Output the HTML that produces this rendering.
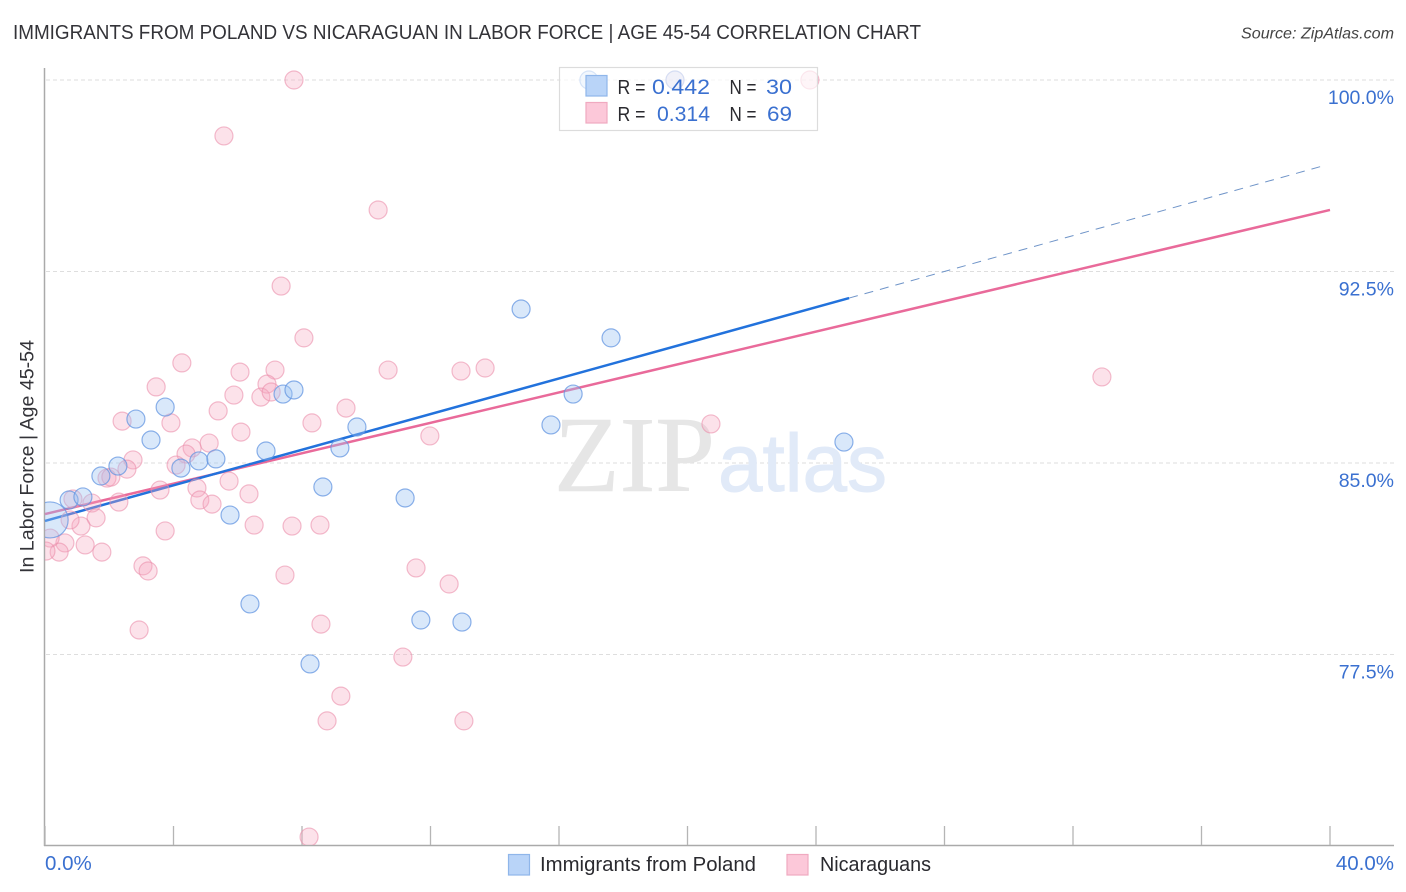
<!DOCTYPE html>
<html>
<head>
<meta charset="utf-8">
<title>Correlation Chart</title>
<style>
html,body{margin:0;padding:0;background:#fff;width:1406px;height:892px;overflow:hidden}
svg{display:block;font-family:"Liberation Sans",sans-serif}
</style>
</head>
<body>
<svg id="chart" xmlns="http://www.w3.org/2000/svg" width="1406" height="892" viewBox="0 0 1406 892">
  <defs><clipPath id="plot-clip"><rect x="45" y="60" width="1349" height="785"/></clipPath></defs>
  <text x="13" y="39" font-size="20" fill="#333338" textLength="908" lengthAdjust="spacingAndGlyphs">IMMIGRANTS FROM POLAND VS NICARAGUAN IN LABOR FORCE | AGE 45-54 CORRELATION CHART</text>
  <text x="1394" y="38.500" font-size="16" font-style="italic" fill="#444" text-anchor="end" textLength="153" lengthAdjust="spacingAndGlyphs">Source: ZipAtlas.com</text>
  <g id="grid"></g>
  <text x="554" y="491" font-family="'Liberation Serif',serif" font-size="108" fill="#e6e6e6" stroke="#e6e6e6" stroke-width="0.600" textLength="161" lengthAdjust="spacingAndGlyphs">ZIP</text>
  <text x="718" y="491" font-size="82" fill="#e1eaf8" stroke="#e1eaf8" stroke-width="1" textLength="169" lengthAdjust="spacingAndGlyphs">atlas</text>
  <g id="axes">
    <line x1="44.500" y1="68" x2="44.500" y2="846" stroke="#aaa" stroke-width="1.500"/>
    <line x1="44" y1="845.500" x2="1394" y2="845.500" stroke="#aaa" stroke-width="1.500"/>
  </g>
  <g id="x-ticks"></g>
  <g id="y-labels"></g>
  <g id="x-labels"></g>
  <g id="lines"></g>
  <g id="points" clip-path="url(#plot-clip)"></g>
  <text transform="translate(33.500,456.500) rotate(-90)" font-size="19" fill="#333338" text-anchor="middle" textLength="233" lengthAdjust="spacingAndGlyphs">In Labor Force | Age 45-54</text>

  <g>
    <rect x="559.500" y="67.500" width="258" height="63" fill="#fff" fill-opacity="0.66" stroke="#dcdcdc" stroke-width="1.200"/>
    <rect x="586" y="75.500" width="21" height="20.500" fill="#b9d4f8" stroke="#8fb6ea" stroke-width="1.200"/>
    <rect x="586" y="102.500" width="21" height="20.500" fill="#fcc8d9" stroke="#f0a9c0" stroke-width="1.200"/>
    <text x="617.500" y="94" font-size="20" fill="#2a2a2f" textLength="28" lengthAdjust="spacingAndGlyphs">R =</text>
    <text x="652" y="94" font-size="21" fill="#3a70d0" textLength="58" lengthAdjust="spacingAndGlyphs">0.442</text>
    <text x="729.500" y="94" font-size="20" fill="#2a2a2f" textLength="27" lengthAdjust="spacingAndGlyphs">N =</text>
    <text x="766" y="94" font-size="21" fill="#3a70d0" textLength="26" lengthAdjust="spacingAndGlyphs">30</text>
    <text x="617.500" y="121" font-size="20" fill="#2a2a2f" textLength="28" lengthAdjust="spacingAndGlyphs">R =</text>
    <text x="657" y="121" font-size="21" fill="#3a70d0" textLength="53" lengthAdjust="spacingAndGlyphs">0.314</text>
    <text x="729.500" y="121" font-size="20" fill="#2a2a2f" textLength="27" lengthAdjust="spacingAndGlyphs">N =</text>
    <text x="767" y="121" font-size="21" fill="#3a70d0" textLength="25" lengthAdjust="spacingAndGlyphs">69</text>
  </g>

  <g>
    <rect x="508.500" y="854.500" width="21" height="20.500" fill="#b9d4f8" stroke="#8fb6ea" stroke-width="1.200"/>
    <text x="540" y="871" font-size="20" fill="#2a2a2f" textLength="216" lengthAdjust="spacingAndGlyphs">Immigrants from Poland</text>
    <rect x="787" y="854.500" width="21" height="20.500" fill="#fcc8d9" stroke="#f0a9c0" stroke-width="1.200"/>
    <text x="820" y="871" font-size="20" fill="#2a2a2f" textLength="111" lengthAdjust="spacingAndGlyphs">Nicaraguans</text>
  </g>
</svg>
<script>
const yTicks = [100, 92.5, 85, 77.5];
const yTickLabels = ["100.0%", "92.5%", "85.0%", "77.5%"];
const xTicks = [0, 4, 8, 12, 16, 20, 24, 28, 32, 36, 40];
const xEndTicks = [0, 40];
const xEndLabels = ["0.0%", "40.0%"];

const blueX = [0.16,0.75,1.18,1.74,2.27,2.83,3.30,3.74,4.23,4.79,5.32,5.76,6.38,6.88,7.41,7.75,8.25,8.65,9.18,9.71,11.21,11.70,12.98,14.82,15.75,16.44,17.62,24.87,16.93,19.61];
const blueY = [82.77,83.55,83.67,84.49,84.88,86.72,85.90,87.19,84.80,85.08,85.16,82.96,79.48,85.47,87.70,87.86,77.13,84.06,85.59,86.41,83.63,78.85,78.77,91.03,86.49,87.70,89.90,85.82,100,100];
const blueWeight = [4,1,1,1,1,1,1,1,1,1,1,1,1,1,1,1,1,1,1,1,1,1,1,1,1,1,1,1,1,1];

const pinkX = [7.75,19.61,23.81,5.57,10.37,7.35,8.06,4.26,6.07,7.16,3.46,6.91,5.88,6.72,7.04,5.39,9.37,8.31,2.40,3.92,6.10,11.98,10.68,12.95,13.70,32.90,20.73,5.11,4.58,4.39,2.74,4.08,2.55,1.93,2.05,5.73,3.58,4.73,6.35,4.82,5.20,2.30,0.87,1.46,1.59,1.12,0.78,6.51,7.69,8.56,3.74,1.25,1.77,0.62,0.44,0.16,0.03,3.05,3.21,7.47,11.55,12.58,2.93,8.59,11.14,9.21,8.78,13.04,8.22];
const pinkY = [100,100,100,97.81,94.91,91.93,89.90,88.92,88.56,88.64,87.98,88.09,87.66,87.58,87.78,87.04,87.15,86.57,86.64,86.57,86.21,86.06,88.64,88.60,88.72,88.37,86.53,85.78,85.59,85.35,85.12,84.92,84.76,84.41,84.45,84.29,83.94,84.02,83.79,83.55,83.39,83.47,83.59,83.43,82.85,82.53,82.77,82.57,82.53,82.57,82.34,81.79,81.51,81.87,81.51,82.06,81.55,80.97,80.77,80.61,80.89,80.26,78.46,78.69,77.40,75.87,74.90,74.90,70.35];

const blueTrendX = [0, 25.03];
const blueTrendY = [82.73, 91.46];
const blueProjectionX = [25.03, 39.88];
const blueProjectionY = [91.46, 96.67];
const pinkTrendX = [0, 40];
const pinkTrendY = [83.0, 94.91];

const NS = "http://www.w3.org/2000/svg";
function sx(v) { return 45 + v * 32.125; }
function sy(v) { return 80 + (100 - v) * 25.533; }
function make(tag, attrs, parent) {
  const el = document.createElementNS(NS, tag);
  for (const k in attrs) el.setAttribute(k, attrs[k]);
  parent.appendChild(el);
  return el;
}

const gridG = document.getElementById("grid");
const yLabelG = document.getElementById("y-labels");
yTicks.forEach(function (t, i) {
  const gl = make("line", {x1: 46, x2: 1394, y1: sy(t), y2: sy(t), stroke: "#dedede", "stroke-width": 1, "stroke-dasharray": "4 3"}, gridG);
  
  
  const lb = make("text", {x: 1394, y: sy(t) + 24, "font-size": 19.5, fill: "#3a70d0", "text-anchor": "end"}, yLabelG);
  
  
  lb.textContent = yTickLabels[i];
});

const xTickG = document.getElementById("x-ticks");
xTicks.forEach(function (t) {
  const tk = make("line", {x1: sx(t), x2: sx(t), y1: 826, y2: 845, stroke: "#b5b5b5", "stroke-width": 1.3}, xTickG);
  
  
});

const xLabelG = document.getElementById("x-labels");
xEndTicks.forEach(function (t, i) {
  const anchorStart = i === 0;
  const lb = make("text", {x: anchorStart ? sx(t) : 1394, y: 870, "font-size": 20.5, fill: "#3a70d0", "text-anchor": anchorStart ? "start" : "end"}, xLabelG);
  
  
  lb.textContent = xEndLabels[i];
});

const linesG = document.getElementById("lines");
const l3 = make("line", {x1: sx(pinkTrendX[0]), y1: sy(pinkTrendY[0]), x2: sx(pinkTrendX[1]), y2: sy(pinkTrendY[1]), stroke: "#e96a9a", "stroke-width": 2.5}, linesG);


const l1 = make("line", {x1: sx(blueProjectionX[0]), y1: sy(blueProjectionY[0]), x2: sx(blueProjectionX[1]), y2: sy(blueProjectionY[1]), stroke: "#6f94c8", "stroke-width": 1, "stroke-dasharray": "9 7"}, linesG);


const l2 = make("line", {x1: sx(blueTrendX[0]), y1: sy(blueTrendY[0]), x2: sx(blueTrendX[1]), y2: sy(blueTrendY[1]), stroke: "#2272dc", "stroke-width": 2.5}, linesG);



const pointsG = document.getElementById("points");
pinkX.forEach(function (x, i) {
  const c = make("circle", {cx: sx(x), cy: sy(pinkY[i]), r: 9, fill: "#f7a8c0", "fill-opacity": 0.33, stroke: "#eb8fac", "stroke-opacity": 0.6, "stroke-width": 1.2}, pointsG);
  
  
});
blueX.forEach(function (x, i) {
  const c = make("circle", {cx: sx(x), cy: sy(blueY[i]), r: 9 * Math.sqrt(blueWeight[i]), fill: "#9cc2f2", "fill-opacity": 0.38, stroke: "#5f93e0", "stroke-opacity": 0.72, "stroke-width": 1.2}, pointsG);
  
  
});
</script>
</body>
</html>
